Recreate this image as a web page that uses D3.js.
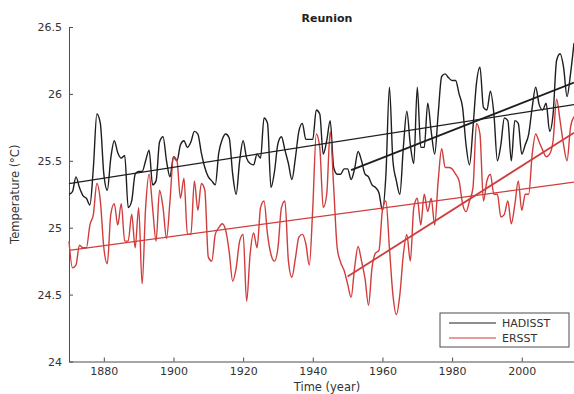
<!DOCTYPE html>
<html>
<head>
<meta charset="utf-8">
<script src="https://cdn.jsdelivr.net/npm/d3@7"></script>
<style>
  html, body { margin: 0; padding: 0; background: #fff; }
  svg { display: block; font-family: "DejaVu Sans", sans-serif; }
</style>
</head>
<body>
<div id="chart"></div>
<script>
// years 1870..2015, one value per year
const firstYear = 1870;
const lastYear = 2015;

const hadisst = [
  25.25, 25.27, 25.38, 25.30, 25.24, 25.22, 25.17, 25.45, 25.85, 25.78,
  25.40, 25.28, 25.52, 25.65, 25.56, 25.52, 25.54, 25.15, 25.20, 25.40,
  25.42, 25.42, 25.50, 25.58, 25.32, 25.35, 25.64, 25.68, 25.50, 25.38,
  25.53, 25.50, 25.62, 25.65, 25.60, 25.64, 25.72, 25.70, 25.56, 25.45,
  25.38, 25.35, 25.32, 25.56, 25.66, 25.70, 25.67, 25.40, 25.25, 25.50,
  25.65, 25.52, 25.48, 25.47, 25.55, 25.52, 25.82, 25.78, 25.30, 25.42,
  25.63, 25.68, 25.58, 25.48, 25.36, 25.52, 25.72, 25.78, 25.66, 25.66,
  25.66, 25.88, 25.85, 25.55, 25.65, 25.80, 25.45, 25.40, 25.40, 25.44,
  25.44, 25.36, 25.44, 25.57, 25.50, 25.40, 25.38, 25.32, 25.30, 25.26,
  25.13, 25.40, 26.05, 25.50, 25.35, 25.25, 25.60, 25.87, 25.62, 25.48,
  26.05, 25.60, 25.60, 25.93, 25.72, 25.55, 25.85, 26.13, 26.15, 26.12,
  26.10, 26.10, 26.00, 25.90, 25.62, 25.47, 25.75, 26.08, 26.20, 25.90,
  25.88, 26.02, 25.85, 25.50, 25.62, 25.82, 25.80, 25.50, 25.80, 25.78,
  25.55, 25.62, 25.70, 25.90, 26.05, 25.92, 25.88, 25.93, 25.72, 25.85,
  26.25, 26.30, 26.20, 25.98, 26.15, 26.38
];

const ersst = [
  24.90, 24.70, 24.72, 24.87, 24.85, 24.85, 25.02, 25.10, 25.33, 25.20,
  24.85, 24.73, 25.10, 25.18, 25.02, 25.18, 24.90, 24.90, 25.10, 24.85,
  25.15, 24.58, 25.15, 25.40, 25.15, 24.90, 25.28, 25.15, 24.92, 25.20,
  25.53, 25.50, 25.22, 25.37, 24.95, 24.95, 25.35, 25.13, 25.33, 25.28,
  24.78, 24.75, 24.95, 25.00, 25.03, 24.98, 24.82, 24.60, 24.70, 24.90,
  24.95, 24.45, 24.80, 24.96, 24.85, 25.15, 25.20, 24.95, 24.80, 24.75,
  24.85, 25.15, 25.20, 24.75, 24.63, 24.77, 24.93, 24.95, 24.88, 24.72,
  25.15, 25.70, 25.60, 25.15, 25.25, 25.72, 25.30, 24.85, 24.74, 24.68,
  24.58, 24.48, 24.70, 24.86, 24.75, 24.62, 24.42, 24.70, 24.81, 24.83,
  25.13, 25.20, 24.85, 24.50, 24.35, 24.50, 24.80, 24.95, 24.75, 25.15,
  25.22, 25.02, 25.25, 25.12, 25.22, 25.02, 25.35, 25.59, 25.45, 25.45,
  25.44, 25.40, 25.35, 25.18, 25.12, 25.20, 25.30, 25.78, 25.70, 25.20,
  25.35, 25.40, 25.25, 25.25, 25.08, 25.10, 25.20, 25.03, 25.17, 25.35,
  25.13, 25.25, 25.25, 25.55, 25.70, 25.64, 25.58, 25.53, 25.55, 25.65,
  25.96, 25.80, 25.62, 25.50, 25.75, 25.83
];

// fitted trend lines: [start year, end year] -> [start, end] value
const hadTrendAllYears = [1870, 2015];
const hadTrendAll = [25.33, 25.92];
const hadTrendRecentYears = [1951, 2015];
const hadTrendRecent = [25.43, 26.085];
const erTrendAllYears = [1870, 2015];
const erTrendAll = [24.83, 25.34];
const erTrendRecentYears = [1950, 2015];
const erTrendRecent = [24.635, 25.71];

const yTicks = [24, 24.5, 25, 25.5, 26, 26.5];
const xTicks = [1880, 1900, 1920, 1940, 1960, 1980, 2000];
const seriesNames = ['HADISST', 'ERSST'];

const black = '#1e1e1e';
const red = '#d03d3d';
const axisCol = '#4d4d4d';

const width = 574;
const height = 394;
const plot = { left: 69, right: 574, top: 27, bottom: 361.5 };

const svg = d3.select('#chart').append('svg')
  .attr('width', width)
  .attr('height', height);

const x = d3.scaleLinear().domain([firstYear, lastYear]).range([plot.left, plot.right]);
const y = d3.scaleLinear().domain([24, 26.5]).range([plot.bottom, plot.top]);

const years = d3.range(firstYear, lastYear + 1);

// axes (ticks inward, matlab style)
const xAxis = svg.append('g')
  .attr('transform', `translate(0,${plot.bottom})`)
  .call(d3.axisBottom(x).tickValues(xTicks).tickFormat(d3.format('d')).tickSizeInner(-4).tickSizeOuter(0).tickPadding(6));
const yAxis = svg.append('g')
  .attr('transform', `translate(${plot.left},0)`)
  .call(d3.axisLeft(y).tickValues(yTicks).tickFormat(d => d3.format('')(d)).tickSizeInner(-4).tickSizeOuter(0).tickPadding(7));

[xAxis, yAxis].forEach(g => {
  g.select('.domain').attr('stroke', axisCol).attr('stroke-width', 1);
  g.selectAll('.tick line').attr('stroke', axisCol);
  g.selectAll('.tick text').attr('fill', '#333').style('font-size', '11px').style('font-family', '"DejaVu Sans", sans-serif');
});

const line = d3.line()
  .x((d, i) => x(years[i]))
  .y(d => y(d))
  .curve(d3.curveMonotoneX);

svg.append('path')
  .datum(hadisst)
  .attr('fill', 'none')
  .attr('stroke', black)
  .attr('stroke-width', 1.4)
  .attr('stroke-linejoin', 'round')
  .attr('d', line);

svg.append('path')
  .datum(ersst)
  .attr('fill', 'none')
  .attr('stroke', red)
  .attr('stroke-width', 1.4)
  .attr('stroke-linejoin', 'round')
  .attr('d', line);

// trend lines
const trend = (yrs, vals, col, w) => {
  svg.append('line')
    .attr('x1', x(yrs[0])).attr('y1', y(vals[0]))
    .attr('x2', x(yrs[1])).attr('y2', y(vals[1]))
    .attr('stroke', col)
    .attr('stroke-width', w);
};
trend(hadTrendAllYears, hadTrendAll, black, 1.3);
trend(erTrendAllYears, erTrendAll, red, 1.3);
trend(hadTrendRecentYears, hadTrendRecent, black, 1.8);
trend(erTrendRecentYears, erTrendRecent, red, 1.8);

// title and axis labels
svg.append('text')
  .attr('x', 327)
  .attr('y', 22)
  .attr('text-anchor', 'middle')
  .style('font-size', '11px')
  .style('font-weight', 'bold')
  .attr('fill', '#222')
  .text('Reunion');

svg.append('text')
  .attr('x', 327)
  .attr('y', 391)
  .attr('text-anchor', 'middle')
  .style('font-size', '11.5px')
  .attr('fill', '#333')
  .text('Time (year)');

svg.append('text')
  .attr('transform', 'rotate(-90)')
  .attr('x', -(plot.top + plot.bottom) / 2)
  .attr('y', 19)
  .attr('text-anchor', 'middle')
  .style('font-size', '11.5px')
  .attr('fill', '#333')
  .text('Temperature (°C)');

// legend
const legend = svg.append('g').attr('transform', 'translate(440,313)');
legend.append('rect')
  .attr('width', 129)
  .attr('height', 34)
  .attr('fill', '#fff')
  .attr('stroke', axisCol)
  .attr('stroke-width', 1);
const legCols = [black, red];
seriesNames.forEach((name, i) => {
  const ly = 10 + i * 15;
  legend.append('line')
    .attr('x1', 9).attr('x2', 56)
    .attr('y1', ly).attr('y2', ly)
    .attr('stroke', legCols[i])
    .attr('stroke-width', 1.2);
  legend.append('text')
    .attr('x', 62)
    .attr('y', ly + 4)
    .style('font-size', '11px')
    .attr('fill', '#333')
    .text(name);
});
</script>
</body>
</html>
